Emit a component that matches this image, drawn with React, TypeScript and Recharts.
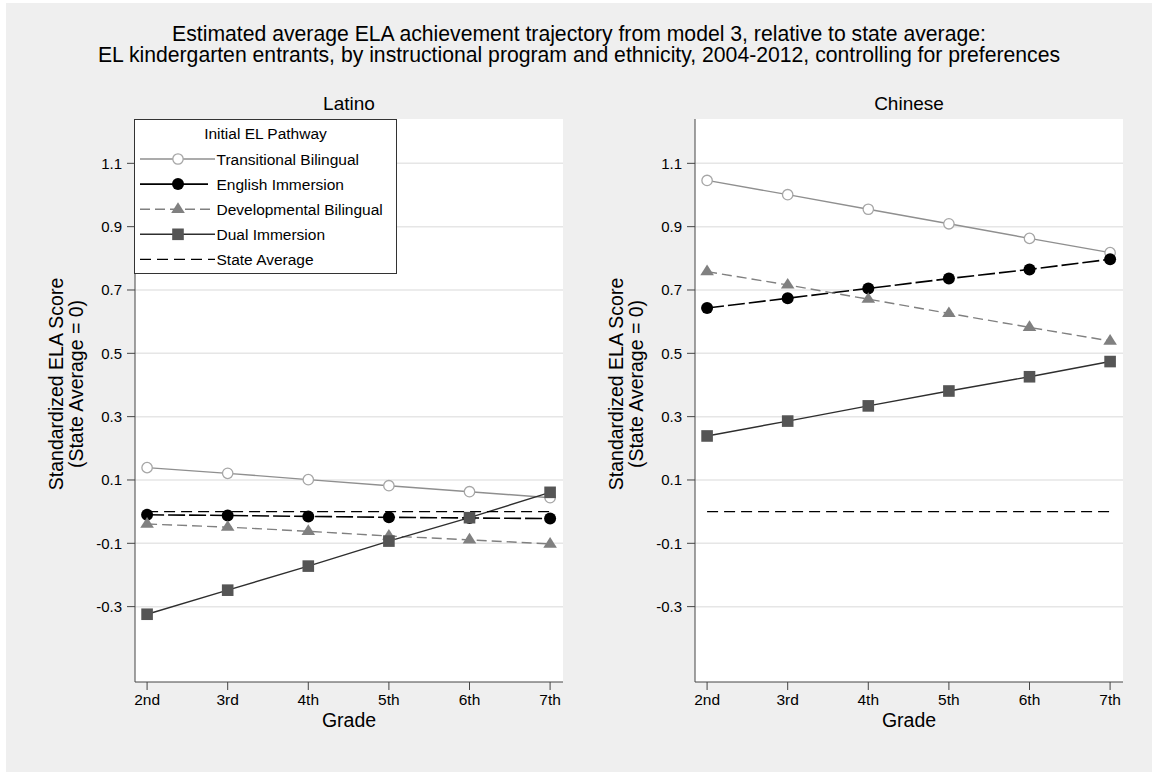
import React from "react";
import { LineChart, Line, XAxis, YAxis, CartesianGrid, Legend } from "recharts";

const grades = [2, 3, 4, 5, 6, 7];
const gradeLabels = ["2nd", "3rd", "4th", "5th", "6th", "7th"];
const yTicks = [-0.3, -0.1, 0.1, 0.3, 0.5, 0.7, 0.9, 1.1];

// Latino panel
const latinoTransitional = [0.139, 0.121, 0.101, 0.082, 0.063, 0.044];
const latinoEnglish = [-0.01, -0.012, -0.015, -0.018, -0.02, -0.022];
const latinoDevelopmental = [-0.039, -0.049, -0.062, -0.077, -0.089, -0.102];
const latinoDual = [-0.324, -0.248, -0.172, -0.093, -0.019, 0.061];
const latinoState = [0, 0, 0, 0, 0, 0];

// Chinese panel
const chineseTransitional = [1.046, 1.001, 0.955, 0.909, 0.863, 0.818];
const chineseEnglish = [0.643, 0.674, 0.705, 0.736, 0.765, 0.797];
const chineseDevelopmental = [0.758, 0.716, 0.671, 0.626, 0.582, 0.539];
const chineseDual = [0.239, 0.286, 0.334, 0.381, 0.426, 0.474];
const chineseState = [0, 0, 0, 0, 0, 0];

const FONT = "'Liberation Sans', Arial, Helvetica, sans-serif";

type Row = { grade: number; transitional: number; english: number; developmental: number; dual: number; state: number };

function buildRows(t: number[], e: number[], d: number[], du: number[], s: number[]): Row[] {
  return grades.map((g, i) => ({ grade: g, transitional: t[i], english: e[i], developmental: d[i], dual: du[i], state: s[i] }));
}

const latinoRows = buildRows(latinoTransitional, latinoEnglish, latinoDevelopmental, latinoDual, latinoState);
const chineseRows = buildRows(chineseTransitional, chineseEnglish, chineseDevelopmental, chineseDual, chineseState);

type Marker = "hollow" | "circle" | "triangle" | "square" | "none";

const SERIES: { key: keyof Row; name: string; stroke: string; dash?: string; legendDash?: string; marker: Marker; fill: string; width: number }[] = [
  { key: "transitional", name: "Transitional Bilingual", stroke: "#8f8f8f", marker: "hollow", fill: "#a6a6a6", width: 1.4 },
  { key: "english", name: "English Immersion", stroke: "#000", dash: "17 4", legendDash: "none", marker: "circle", fill: "#000", width: 1.6 },
  { key: "developmental", name: "Developmental Bilingual", stroke: "#808080", dash: "10 5", marker: "triangle", fill: "#808080", width: 1.4 },
  { key: "dual", name: "Dual Immersion", stroke: "#2e2e2e", marker: "square", fill: "#555", width: 1.4 },
  { key: "state", name: "State Average", stroke: "#000", dash: "11 6", marker: "none", fill: "#000", width: 1.4 },
];

function drawMarker(kind: Marker, cx: number, cy: number, fill: string, key?: React.Key) {
  if (kind === "hollow") return <circle key={key} cx={cx} cy={cy} r={5.2} fill="#fff" stroke={fill} strokeWidth={1.3} />;
  if (kind === "circle") return <circle key={key} cx={cx} cy={cy} r={6} fill={fill} />;
  if (kind === "triangle")
    return <polygon key={key} points={`${cx},${cy - 7} ${cx + 6.8},${cy + 3.7} ${cx - 6.8},${cy + 3.7}`} fill={fill} />;
  if (kind === "square") return <rect key={key} x={cx - 5.8} y={cy - 5.8} width={11.6} height={11.6} fill={fill} />;
  return <g key={key} />;
}

function makeDot(kind: Marker, fill: string) {
  return (props: any) => drawMarker(kind, props.cx, props.cy, fill, `dot-${props.index}`);
}

function LegendBox() {
  const rowY = (i: number) => 40 + 25.1 * i;
  return (
    <svg width={263} height={155} style={{ display: "block" }}>
      <rect x={0.5} y={0.5} width={262} height={154} fill="#fff" stroke="#333" />
      <text x={131.5} y={19.5} textAnchor="middle" fontSize={15.5} fontFamily={FONT} fill="#000">
        Initial EL Pathway
      </text>
      {SERIES.map((s, i) => (
        <g key={s.key}>
          <line
            x1={6}
            x2={s.key === "english" ? 74 : 81}
            y1={rowY(i)}
            y2={rowY(i)}
            stroke={s.stroke}
            strokeWidth={s.width}
            strokeDasharray={s.legendDash ?? s.dash}
          />
          {drawMarker(s.marker, 44, rowY(i), s.fill)}
          <text x={82.5} y={rowY(i) + 5.5} fontSize={15.5} fontFamily={FONT} fill="#000">
            {s.name}
          </text>
        </g>
      ))}
    </svg>
  );
}

function Panel({ rows, width, marginRight, showLegend }: { rows: Row[]; width: number; marginRight: number; showLegend?: boolean }) {
  return (
    <LineChart width={width} height={772} data={rows} margin={{ top: 119, right: marginRight, bottom: 50, left: 80 }}>
      <CartesianGrid fill="#fff" vertical={false} stroke="#e6e6e6" strokeWidth={1.5} horizontalValues={yTicks} />
      <XAxis
        dataKey="grade"
        type="number"
        domain={[1.85, 7.16]}
        allowDataOverflow
        ticks={grades}
        tickFormatter={(v: number) => gradeLabels[grades.indexOf(v)]}
        height={40}
        tickSize={8}
        tickMargin={4}
        stroke="#444"
        tick={{ fill: "#000", fontSize: 15.5, fontFamily: FONT }}
      />
      <YAxis
        type="number"
        domain={[-0.538, 1.24]}
        allowDataOverflow
        ticks={yTicks}
        tickFormatter={(v: number) => v.toFixed(1)}
        width={55}
        tickSize={8}
        tickMargin={5}
        stroke="#444"
        tick={{ fill: "#000", fontSize: 15, fontFamily: FONT }}
      />
      {SERIES.map((s) => (
        <Line
          key={s.key}
          type="linear"
          dataKey={s.key}
          name={s.name}
          stroke={s.stroke}
          strokeWidth={s.width}
          strokeDasharray={s.dash}
          dot={s.marker === "none" ? false : makeDot(s.marker, s.fill)}
          activeDot={false}
          isAnimationActive={false}
        />
      ))}
      {showLegend && (
        <Legend
          layout="vertical"
          align="center"
          verticalAlign="middle"
          content={() => <LegendBox />}
          wrapperStyle={{ position: "absolute", left: 134, top: 119, width: 263, height: 155 }}
        />
      )}
    </LineChart>
  );
}

function YLabel({ x, y }: { x: number; y: number }) {
  return (
    <text transform={`translate(${x},${y}) rotate(-90)`} textAnchor="middle" fontSize={19.5} fontFamily={FONT} fill="#000">
      <tspan x={0} y={0}>Standardized ELA Score</tspan>
      <tspan x={0} y={20}>(State Average = 0)</tspan>
    </text>
  );
}

export default function App() {
  return (
    <div style={{ position: "fixed", left: 0, top: 0, width: 1152, height: 772, background: "#fff", overflow: "hidden" }}>
      <svg width={1152} height={772} style={{ position: "absolute", left: 0, top: 0 }}>
        <rect x={6} y={3} width={1146} height={769} fill="#efefef" />
        <text x={579} y={40.5} textAnchor="middle" fontSize={21.2} fontFamily={FONT} fill="#000">
          Estimated average ELA achievement trajectory from model 3, relative to state average:
        </text>
        <text x={579} y={62} textAnchor="middle" fontSize={21.2} fontFamily={FONT} fill="#000">
          EL kindergarten entrants, by instructional program and ethnicity, 2004-2012, controlling for preferences
        </text>
        <text x={349} y={110} textAnchor="middle" fontSize={19} fontFamily={FONT} fill="#000">
          Latino
        </text>
        <text x={909} y={110} textAnchor="middle" fontSize={19} fontFamily={FONT} fill="#000">
          Chinese
        </text>
        <YLabel x={63} y={384} />
        <YLabel x={623} y={384} />
        <text x={349} y={727} textAnchor="middle" fontSize={19.5} fontFamily={FONT} fill="#000">
          Grade
        </text>
        <text x={909} y={727} textAnchor="middle" fontSize={19.5} fontFamily={FONT} fill="#000">
          Grade
        </text>
      </svg>
      <div style={{ position: "absolute", left: 0, top: 0 }}>
        <Panel rows={latinoRows} width={580} marginRight={17} showLegend />
      </div>
      <div style={{ position: "absolute", left: 560, top: 0 }}>
        <Panel rows={chineseRows} width={592} marginRight={29} />
      </div>
    </div>
  );
}
